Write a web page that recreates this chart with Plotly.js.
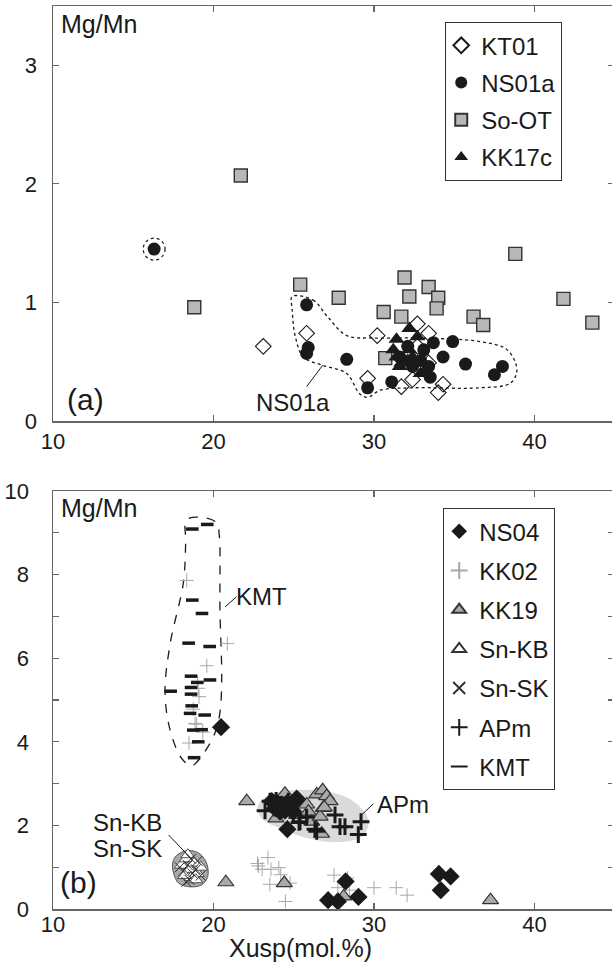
<!DOCTYPE html>
<html>
<head>
<meta charset="utf-8">
<script src="https://cdn.plot.ly/plotly-3.0.1.min.js"></script>
<style>
html,body{margin:0;padding:0;background:#fff;overflow:hidden;width:612px;height:963px;}
#chart{width:614px;height:963px;}
</style>
</head>
<body>
<div id="chart"></div>
<script>
// ---------- Panel (a) data ----------
const kt01X = [23.1, 25.8, 30.2, 29.6, 31.7, 32.7, 33.4, 32.4, 34.3, 34.0, 33.4, 32.7];
const kt01Y = [0.63, 0.74, 0.72, 0.36, 0.29, 0.82, 0.74, 0.35, 0.31, 0.24, 0.49, 0.63];

const ns01aX = [16.3, 25.8, 25.9, 25.8, 28.3, 29.6, 31.1, 34.9, 35.7, 37.5, 38.0, 33.1, 33.7, 34.3, 33.5, 32.4, 32.1, 32.9, 33.4, 31.6];
const ns01aY = [1.45, 0.98, 0.62, 0.57, 0.52, 0.28, 0.33, 0.67, 0.48, 0.39, 0.46, 0.60, 0.66, 0.54, 0.37, 0.46, 0.63, 0.51, 0.46, 0.54];

const soOtX = [18.8, 21.7, 25.4, 27.8, 31.9, 32.2, 30.6, 31.7, 33.4, 34.0, 33.9, 36.2, 36.8, 30.7, 38.8, 41.8, 43.6];
const soOtY = [0.96, 2.07, 1.15, 1.04, 1.21, 1.05, 0.92, 0.88, 1.13, 1.04, 0.95, 0.88, 0.81, 0.53, 1.41, 1.03, 0.83];

const kk17cX = [32.2, 31.4, 31.2, 31.7, 32.2, 32.4, 31.6, 32.9, 32.1, 32.7, 33.2, 31.4];
const kk17cY = [0.78, 0.69, 0.60, 0.49, 0.60, 0.54, 0.46, 0.40, 0.51, 0.71, 0.43, 0.54];

// NS01a field outline (dotted)
const ns01aFieldX = [24.9, 26.2, 27.1, 28.3, 29.9, 32.4, 36.6, 38.3, 38.9, 38.5, 36.6, 32.4, 30.4, 29.6, 29.1, 28.3, 26.8, 25.6, 25.1, 24.9, 24.9];
const ns01aFieldY = [1.05, 1.02, 0.88, 0.72, 0.70, 0.70, 0.67, 0.60, 0.43, 0.32, 0.28, 0.28, 0.26, 0.20, 0.23, 0.40, 0.47, 0.54, 0.71, 0.94, 1.05];

// ---------- Panel (b) data ----------
const ns04X = [20.47, 25.18, 24.60, 23.94, 23.63, 24.25, 24.14, 24.60, 24.77, 23.83, 24.45, 24.97, 25.2, 28.23, 27.14, 27.75, 29.03, 34.04, 34.77, 34.16];
const ns04Y = [4.35, 2.64, 1.91, 2.54, 2.58, 2.50, 2.33, 2.54, 2.45, 2.41, 2.35, 2.33, 2.62, 0.66, 0.21, 0.18, 0.29, 0.84, 0.78, 0.45];

const kk02X = [18.33, 20.86, 19.58, 19.01, 19.05, 19.10, 18.74, 18.85, 18.95, 19.33, 18.47, 22.74, 23.39, 23.03, 23.58, 24.07, 24.19, 23.51, 24.77, 24.48, 27.51, 27.75, 28.35, 28.47, 28.11, 30.0, 31.38, 32.06, 22.8];
const kk02Y = [7.86, 6.35, 5.82, 5.42, 5.28, 5.08, 4.78, 4.44, 4.42, 4.23, 3.97, 1.09, 1.23, 0.95, 0.95, 0.99, 0.82, 0.59, 0.62, 0.18, 0.81, 0.51, 0.74, 0.45, 0.33, 0.51, 0.51, 0.33, 1.03];

const kk19X = [22.07, 24.45, 23.89, 25.18, 25.81, 26.43, 26.80, 27.05, 27.26, 26.84, 25.91, 26.12, 26.64, 26.74, 26.9, 20.77, 24.41, 28.11, 37.26];
const kk19Y = [2.58, 2.76, 2.17, 2.25, 2.50, 2.74, 2.84, 2.70, 2.58, 2.42, 2.33, 2.09, 2.21, 1.80, 2.43, 0.64, 0.62, 0.30, 0.21];

const snKbX = [18.0, 18.3, 18.5, 18.8, 19.0, 18.6, 18.2, 19.2, 18.4, 18.9];
const snKbY = [1.05, 1.2, 0.95, 1.1, 0.85, 0.75, 0.8, 1.0, 1.3, 0.7];

const snSkX = [18.1, 18.4, 18.7, 19.0, 18.5, 18.9, 18.3, 19.2, 18.6, 17.9];
const snSkY = [0.9, 1.05, 0.85, 1.15, 0.7, 0.95, 0.65, 0.8, 1.2, 1.0];

const apmX = [23.21, 23.52, 25.39, 26.32, 26.43, 27.57, 27.88, 28.19, 29.19, 29.02, 24.14, 24.66, 24.97, 25.8, 23.9, 25.33];
const apmY = [2.35, 2.58, 2.09, 1.91, 1.86, 2.25, 1.97, 1.97, 2.09, 1.78, 2.50, 2.58, 2.25, 2.2, 2.6, 2.07];

const kmtX = [18.68, 19.61, 18.68, 19.28, 18.45, 19.76, 18.60, 19.78, 18.99, 18.60, 17.33, 18.60, 18.64, 18.54, 19.45, 18.74, 19.26, 19.05, 18.79];
const kmtY = [9.09, 9.20, 7.39, 7.07, 6.36, 6.28, 5.57, 5.48, 5.42, 5.30, 5.21, 5.14, 4.86, 4.68, 4.64, 4.28, 4.29, 4.00, 3.62];

// KMT field outline (dashed)
const kmtFieldX = [18.33, 19.58, 20.2, 20.36, 20.4, 20.51, 20.4, 20.09, 19.37, 18.64, 18.02, 17.29, 16.98, 17.29, 18.12, 18.27, 18.33];
const kmtFieldY = [9.31, 9.35, 9.23, 8.94, 7.15, 5.52, 4.70, 4.21, 3.72, 3.43, 3.60, 4.29, 5.19, 6.33, 7.80, 8.78, 9.31];

// APm field (light grey)
const apmFieldX = [22.75, 23.31, 24.97, 27.05, 28.71, 29.65, 29.33, 27.88, 26.01, 24.14, 23.0, 22.75];
const apmFieldY = [2.45, 2.70, 2.84, 2.81, 2.58, 2.13, 1.76, 1.60, 1.68, 1.93, 2.17, 2.45];

// Sn-KB / Sn-SK field (grey)
const snFieldX = [17.70, 18.43, 19.15, 19.59, 19.64, 19.27, 18.55, 17.82, 17.51, 17.46, 17.70];
const snFieldY = [1.28, 1.40, 1.32, 1.07, 0.78, 0.58, 0.53, 0.62, 0.86, 1.11, 1.28];

// Axis ticks
const xTicks = [10, 20, 30, 40];
const yTicksA = [0, 1, 2, 3];
const yTicksB = [0, 2, 4, 6, 8, 10];
const yMinorB = [1, 3, 5, 7, 9];

const FONT = 'Liberation Sans, Arial, Helvetica, sans-serif';
const INK = '#1a1a1a';

function pts(x, y, name, legend, rank, marker, xa, ya) {
  return {type:'scatter', mode:'markers', x:x, y:y, name:name, legend:legend,
          legendrank:rank, legendgroup:name, marker:marker, xaxis:xa, yaxis:ya, cliponaxis:false};
}
function field(x, y, xa, ya, line, fill) {
  const t = {type:'scatter', mode:'lines', x:x, y:y, xaxis:xa, yaxis:ya, showlegend:false,
             line:Object.assign({shape:'spline', smoothing:1}, line), hoverinfo:'skip'};
  if (fill) { t.fill = 'toself'; t.fillcolor = fill; }
  return t;
}

const traces = [
  field(ns01aFieldX, ns01aFieldY, 'x', 'y', {color:INK, width:1.3, dash:'dot'}),
  pts(soOtX, soOtY, 'So-OT', 'legend', 3, {symbol:'square', size:13, color:'#b8b8b8', line:{color:'#333', width:1.4}}, 'x', 'y'),
  pts(ns01aX, ns01aY, 'NS01a', 'legend', 2, {symbol:'circle', size:13, color:INK, line:{width:0}}, 'x', 'y'),
  pts(kt01X, kt01Y, 'KT01', 'legend', 1, {symbol:'diamond-open', size:12, color:INK, line:{width:1.1}}, 'x', 'y'),
  pts(kk17cX, kk17cY, 'KK17c', 'legend', 4, {symbol:'triangle-up', size:14, color:INK, line:{width:0}}, 'x', 'y'),

  field(apmFieldX, apmFieldY, 'x2', 'y2', {color:'rgba(0,0,0,0)', width:0}, '#dadada'),
  field(snFieldX, snFieldY, 'x2', 'y2', {color:'#555', width:1}, '#a8a8a8'),
  field(kmtFieldX, kmtFieldY, 'x2', 'y2', {color:INK, width:1.3, dash:'dash'}),
  pts(kk02X, kk02Y, 'KK02', 'legend2', 2, {symbol:'cross-thin-open', size:10, color:'#a8a8a8', line:{width:1, color:'#a8a8a8'}}, 'x2', 'y2'),
  pts(kk19X, kk19Y, 'KK19', 'legend2', 3, {symbol:'triangle-up', size:14, color:'#aaaaaa', line:{color:'#333', width:1.2}}, 'x2', 'y2'),
  pts(snKbX, snKbY, 'Sn-KB', 'legend2', 4, {symbol:'triangle-up', size:12, color:'#ffffff', line:{color:'#333', width:0.8}}, 'x2', 'y2'),
  pts(snSkX, snSkY, 'Sn-SK', 'legend2', 5, {symbol:'x-thin-open', size:10, color:'#333', line:{width:1, color:'#333'}}, 'x2', 'y2'),
  pts(ns04X, ns04Y, 'NS04', 'legend2', 1, {symbol:'diamond', size:14, color:INK, line:{width:0}}, 'x2', 'y2'),
  pts(apmX, apmY, 'APm', 'legend2', 6, {symbol:'cross-thin-open', size:12, color:INK, line:{width:3, color:INK}}, 'x2', 'y2'),
  pts(kmtX, kmtY, 'KMT', 'legend2', 7, {symbol:'line-ew-open', size:9, color:INK, line:{width:3.5, color:INK}}, 'x2', 'y2')
];

const axisCommon = {
  showline:true, linecolor:'#666', linewidth:1.5, mirror:'ticks',
  ticks:'inside', ticklen:6, tickwidth:1.2, tickcolor:'#666',
  showgrid:false, zeroline:false, tickfont:{family:FONT, size:22, color:INK}
};

// plot area: top 6 px, bottom 909 px  -> height 903
const layout = {
  width:614, height:963,
  margin:{l:53, r:0, t:6, b:54},
  paper_bgcolor:'#fff', plot_bgcolor:'#fff',
  font:{family:FONT, size:22, color:INK},
  xaxis:Object.assign({}, axisCommon, {domain:[0,1], anchor:'y', range:[10,44.95], tickvals:xTicks, ticklabelstandoff:0}),
  yaxis:Object.assign({}, axisCommon, {domain:[0.5404,1], anchor:'x', range:[0,3.5], tickvals:yTicksA, ticklabelstandoff:10}),
  xaxis2:Object.assign({}, axisCommon, {domain:[0,1], anchor:'y2', range:[10,44.95], tickvals:xTicks, ticklabelstandoff:-5}),
  yaxis2:Object.assign({}, axisCommon, {domain:[0,0.4629], anchor:'x2', range:[0,10], tickvals:yTicksB, ticklabelstandoff:18,
          minor:{tickvals:yMinorB, ticks:'inside', ticklen:6, tickcolor:'#666', tickwidth:1.2}}),
  legend:{x:0.6988, y:0.9823, xanchor:'left', yanchor:'top', bgcolor:'#fff', bordercolor:'#333', borderwidth:1.2,
          font:{family:FONT, size:24, color:INK}, itemsizing:'constant', itemwidth:30, indentation:-5,
          tracegroupgap:3, traceorder:'grouped'},
  legend2:{x:0.6952, y:0.4441, xanchor:'left', yanchor:'top', bgcolor:'#fff', bordercolor:'#333', borderwidth:1.2,
          font:{family:FONT, size:24, color:INK}, itemsizing:'constant', itemwidth:30, indentation:-5,
          tracegroupgap:5, traceorder:'grouped'},
  shapes:[
    {type:'circle', xref:'x', yref:'y', x0:ns01aX[0]-0.68, x1:ns01aX[0]+0.68, y0:ns01aY[0]-0.093, y1:ns01aY[0]+0.093,
     line:{color:INK, width:1.2, dash:'dot'}},
    {type:'line', xref:'x', yref:'y', x0:25.8, y0:0.29, x1:26.8, y1:0.47, line:{color:INK, width:1}},
    {type:'line', xref:'x2', yref:'y2', x0:20.72, y0:7.23, x1:21.44, y1:7.47, line:{color:INK, width:1}},
    {type:'line', xref:'x2', yref:'y2', x0:29.23, y0:2.25, x1:29.96, y1:2.52, line:{color:INK, width:1}},
    {type:'line', xref:'x2', yref:'y2', x0:17.2, y0:1.77, x1:18.55, y1:1.23, line:{color:INK, width:1}}
  ],
  annotations:[
    {xref:'paper', yref:'paper', x:0.0107, y:0.9801, xanchor:'left', yanchor:'middle', text:'Mg/Mn', showarrow:false, font:{size:25}},
    {xref:'paper', yref:'paper', x:0.0107, y:0.4441, xanchor:'left', yanchor:'middle', text:'Mg/Mn', showarrow:false, font:{size:25}},
    {xref:'paper', yref:'paper', x:0.0214, y:0.5637, xanchor:'left', yanchor:'middle', text:'(a)', showarrow:false, font:{size:30}},
    {xref:'paper', yref:'paper', x:0.0089, y:0.0299, xanchor:'left', yanchor:'middle', text:'(b)', showarrow:false, font:{size:30}},
    {xref:'paper', yref:'paper', x:0.4403, y:-0.0432, xanchor:'center', yanchor:'middle', text:'Xusp(mol.%)', showarrow:false,
     font:{size:25}, borderpad:0},
    {xref:'x', yref:'y', x:24.95, y:0.16, text:'NS01a', showarrow:false, font:{size:24}},
    {xref:'x2', yref:'y2', x:23.0, y:7.47, text:'KMT', showarrow:false, font:{size:24}},
    {xref:'x2', yref:'y2', x:31.83, y:2.50, text:'APm', showarrow:false, font:{size:24}},
    {xref:'x2', yref:'y2', x:14.67, y:2.06, text:'Sn-KB', showarrow:false, font:{size:24}},
    {xref:'x2', yref:'y2', x:14.67, y:1.44, text:'Sn-SK', showarrow:false, font:{size:24}}
  ]
};

Plotly.newPlot('chart', traces, layout, {staticPlot:true, displayModeBar:false});
</script>
</body>
</html>
